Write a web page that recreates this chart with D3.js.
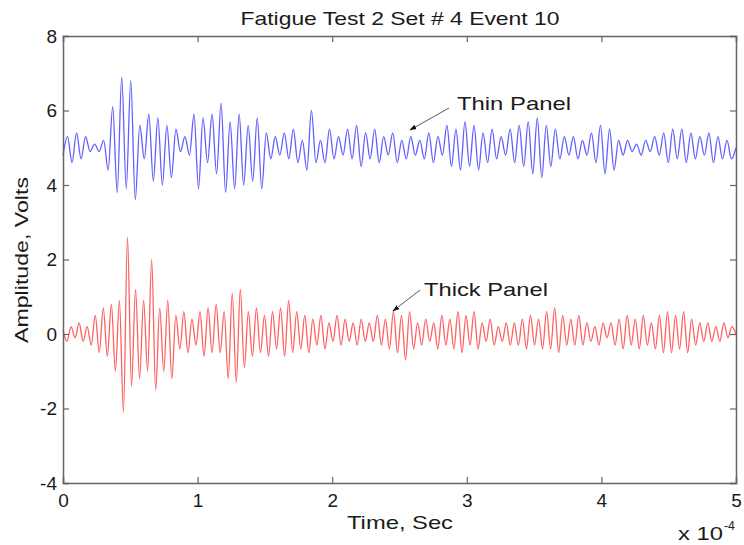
<!DOCTYPE html>
<html><head><meta charset="utf-8">
<script src="https://cdn.jsdelivr.net/npm/d3@7"></script>
<style>body{margin:0;background:#fff}</style>
</head><body><svg id="c" width="744" height="545"></svg>
<script>
// ---- data ----
const title = "Fatigue Test 2 Set # 4 Event 10";
const xLabel = "Time, Sec";
const yLabel = "Amplitude, Volts";
const xTicks = [0, 1, 2, 3, 4, 5];          // in units of 1e-4 s
const yTicks = [-4, -2, 0, 2, 4, 6, 8];
const timeSpan = [0, 5e-4];
// successive extrema (volts) of each trace, evenly spaced in time
const thinPanel = [
  4.8,5.3,4.6,5.4,4.7,5.3,4.9,5.1,4.9,5.2,
  4.4,6.1,3.8,6.9,3.9,6.8,3.6,5.6,4.7,5.9,4.1,5.8,4.0,5.6,4.2,5.5,4.9,5.3,4.8,5.9,3.9,5.8,4.6,5.9,4.3,6.2,3.8,
  5.7,3.9,5.9,4.0,5.6,4.1,5.8,3.9,5.4,
  4.7,5.3,4.8,5.4,4.7,5.5,4.6,5.2,
  4.4,6.0,4.6,
  5.2,4.6,5.5,4.7,5.3,4.8,5.5,4.7,5.6,4.5,5.4,4.7,5.5,4.6,5.3,4.8,5.4,4.6,5.2,
  4.7,5.3,4.8,5.2,4.7,5.4,4.6,5.3,4.8,
  5.6,4.5,5.5,4.4,5.7,4.5,5.6,4.4,5.4,4.6,5.5,4.7,5.3,4.8,
  5.5,4.6,5.6,4.5,5.7,4.3,5.8,4.2,5.6,4.5,5.5,4.7,5.3,4.8,
  5.3,4.7,5.2,4.8,5.4,4.6,
  5.6,4.3,5.5,4.4,
  5.2,4.8,5.2,4.9,5.1,4.8,5.2,4.9,5.3,4.8,
  5.4,4.6,5.5,4.7,5.5,4.6,5.4,4.7,5.3,4.8,5.4,4.6,5.3,4.7,5.2,4.7,5.0
];
const thickPanel = [
  0.1,-0.2,0.2,-0.1,0.3,-0.2,0.2,-0.3,
  0.5,-0.5,0.7,-0.6,0.8,-1.0,0.9,
  -2.1,2.6,
  -1.4,1.2,-1.2,0.9,-1.0,2.0,-1.5,0.7,-1.0,0.9,-1.2,
  0.5,-0.4,0.6,-0.5,0.4,-0.3,0.6,-0.6,0.7,-0.5,0.8,-0.5,0.6,-1.2,1.1,
  -1.3,1.2,-0.9,
  0.6,-0.6,0.7,-0.5,0.5,-0.6,0.6,-0.4,0.7,-0.6,0.9,-0.5,0.6,-0.4,0.5,-0.5,
  0.4,-0.3,0.5,-0.4,0.3,-0.2,0.5,-0.3,0.4,-0.2,0.3,-0.3,0.4,-0.2,0.3,-0.2,
  0.5,-0.3,0.4,-0.4,0.6,-0.5,0.5,-0.7,0.6,-0.4,
  0.3,-0.3,0.4,-0.2,0.3,-0.4,0.5,-0.3,0.4,-0.4,0.6,-0.5,0.5,-0.3,0.6,-0.4,0.3,-0.2,0.4,-0.3,0.2,-0.2,0.3,-0.3,
  0.3,-0.3,0.4,-0.4,0.5,-0.3,0.4,-0.4,0.6,-0.4,0.7,-0.5,0.5,-0.3,0.4,-0.3,0.5,-0.3,
  0.3,-0.2,0.2,-0.3,0.3,-0.1,0.3,-0.3,
  0.4,-0.4,0.5,-0.3,0.4,-0.4,0.5,-0.3,0.3,-0.4,0.5,-0.5,0.6,-0.5,0.5,-0.4,0.6,-0.5,
  0.4,-0.3,0.3,-0.2,0.3,-0.2,0.2,-0.2,0.3,-0.1,0.2,0.0
];
const annotations = ["Thin Panel", "Thick Panel"];

// ---- layout ----
const svg = d3.select("#c");
const m = {l: 63, r: 736, t: 36, b: 483};
const x = d3.scaleLinear().domain(timeSpan).range([m.l, m.r]);
const y = d3.scaleLinear().domain([-4, 8]).range([m.b, m.t]);
const font = "'Liberation Sans', Arial, sans-serif";
const ink = "#1a1a1a";

function toPts(arr) {
  const n = arr.length;
  return arr.map((v, i) => [timeSpan[0] + (timeSpan[1] - timeSpan[0]) * i / (n - 1), v]);
}
const line = d3.line().x(d => x(d[0])).y(d => y(d[1])).curve(d3.curveMonotoneX);

svg.append("defs").append("marker").attr("id", "ah")
  .attr("viewBox", "0 0 10 10").attr("refX", 9).attr("refY", 5)
  .attr("markerWidth", 7).attr("markerHeight", 7).attr("orient", "auto")
  .append("path").attr("d", "M0,1.5L10,5L0,8.5Z").attr("fill", "#111");

svg.append("path").datum(toPts(thinPanel)).attr("d", line)
  .attr("fill", "none").attr("stroke", "#6060ff").attr("stroke-width", 1.3);
svg.append("path").datum(toPts(thickPanel)).attr("d", line)
  .attr("fill", "none").attr("stroke", "#ff6060").attr("stroke-width", 1.3);

// axes
const xb = svg.append("g").attr("transform", `translate(0,${m.b})`)
  .call(d3.axisBottom(x).tickValues(xTicks.map(d => d * 1e-4)).tickSize(-6)
    .tickFormat(d => String(Math.round(d * 1e4))).tickPadding(8));
const xt = svg.append("g").attr("transform", `translate(0,${m.t})`)
  .call(d3.axisTop(x).tickValues(xTicks.map(d => d * 1e-4)).tickSize(-6).tickFormat(""));
const yl = svg.append("g").attr("transform", `translate(${m.l},0)`)
  .call(d3.axisLeft(y).tickValues(yTicks).tickSize(-6).tickPadding(6).tickFormat(d => String(d)));
const yr = svg.append("g").attr("transform", `translate(${m.r},0)`)
  .call(d3.axisRight(y).tickValues(yTicks).tickSize(-6).tickFormat(""));
[xb, xt, yl, yr].forEach(g => {
  g.selectAll(".domain").attr("stroke", "#666").attr("stroke-width", 1.5);
  g.selectAll(".tick line").attr("stroke", "#666").attr("stroke-width", 1.2);
  g.selectAll("text").attr("font-family", font).attr("font-size", 19).attr("fill", ink);
});
xb.selectAll(".tick text").attr("dy", "0.85em");

function txt(s, xx, yy, size, len, anchor) {
  return svg.append("text").attr("x", xx).attr("y", yy).attr("font-family", font)
    .attr("font-size", size).attr("fill", ink).attr("text-anchor", anchor || "middle")
    .attr("textLength", len).attr("lengthAdjust", "spacingAndGlyphs").text(s);
}
txt(title, 400, 25, 19, 319);
txt(xLabel, 400, 529, 19, 106);
txt("x 10", 678, 540, 19, 45, "start");
txt("-4", 724, 530, 13, 11, "start");
svg.append("text").attr("transform", "translate(28,260) rotate(-90)")
  .attr("font-family", font).attr("font-size", 19).attr("fill", ink).attr("text-anchor", "middle")
  .attr("textLength", 166).attr("lengthAdjust", "spacingAndGlyphs").text(yLabel);

// annotations
txt(annotations[0], 457, 110, 19, 114, "start");
txt(annotations[1], 424, 296, 19, 124, "start");
svg.append("line").attr("x1", 449).attr("y1", 108).attr("x2", 410).attr("y2", 130)
  .attr("stroke", "#555").attr("stroke-width", 1).attr("marker-end", "url(#ah)");
svg.append("line").attr("x1", 420).attr("y1", 290).attr("x2", 393).attr("y2", 311)
  .attr("stroke", "#555").attr("stroke-width", 1).attr("marker-end", "url(#ah)");
</script></body></html>
